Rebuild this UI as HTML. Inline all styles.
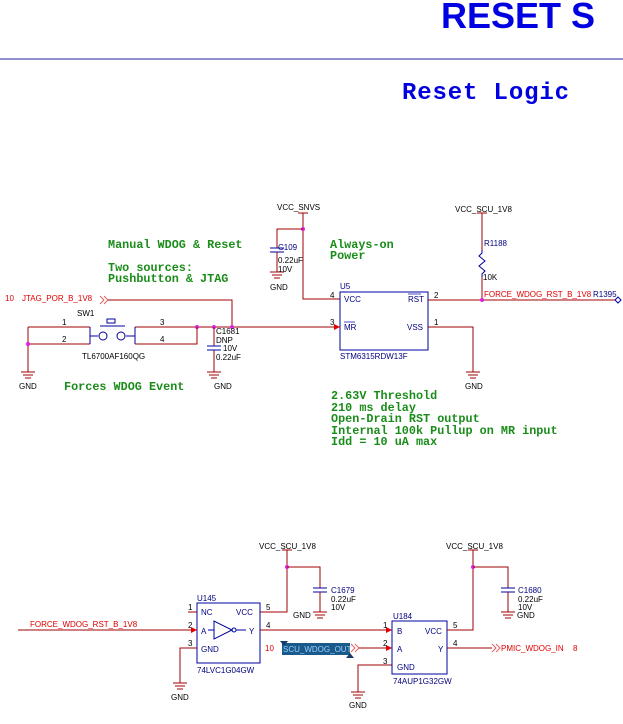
<!DOCTYPE html>
<html><head><meta charset="utf-8"><style>
html,body{margin:0;padding:0;background:#fff;}
svg{display:block}
.b{font-family:"Liberation Sans",sans-serif;font-size:8px;fill:#000}
.n{font-family:"Liberation Sans",sans-serif;font-size:8px;fill:#000080}
.r{font-family:"Liberation Sans",sans-serif;font-size:8px;fill:#e00000}
.g{font-family:"Liberation Mono",monospace;font-size:11.8px;font-weight:bold;fill:#1a8c1a}
.w{stroke:#a00000;stroke-width:1;fill:none}
.c{stroke:#0000a0;stroke-width:1;fill:none}
</style></head><body>
<svg width="623" height="724" xmlns="http://www.w3.org/2000/svg">
<text x="441" y="28" font-family="Liberation Sans,sans-serif" font-weight="bold" font-size="36" fill="#0000e0">RESET S</text>
<line x1="0" y1="59" x2="623" y2="59" stroke="#2020a0" stroke-width="1"/>
<text x="402" y="99" font-family="Liberation Mono,monospace" font-weight="bold" font-size="24" fill="#0000e0" textLength="167">Reset Logic</text>

<!-- green notes -->
<text class="g" x="108" y="248">Manual WDOG &amp; Reset</text>
<text class="g" x="108" y="271">Two sources:</text>
<text class="g" x="108" y="282">Pushbutton &amp; JTAG</text>
<text class="g" x="64" y="390">Forces WDOG Event</text>
<text class="g" x="330" y="248">Always-on</text>
<text class="g" x="330" y="259">Power</text>
<text class="g" x="331" y="399">2.63V Threshold</text>
<text class="g" x="331" y="411">210 ms delay</text>
<text class="g" x="331" y="422">Open-Drain RST output</text>
<text class="g" x="331" y="434">Internal 100k Pullup on MR input</text>
<text class="g" x="331" y="445">Idd = 10 uA max</text>

<!-- VCC_SNVS -->
<text class="b" x="277" y="210">VCC_SNVS</text>
<line x1="298" y1="213" x2="308" y2="213" stroke="#a00000"/>
<polyline class="w" points="303,213 303,299 340,299"/>
<circle cx="303" cy="229" r="2" fill="#e020e0"/>
<polyline class="w" points="303,229 277,229 277,248"/>
<line class="c" x1="270" y1="248" x2="284" y2="248"/><line class="c" x1="270" y1="252" x2="284" y2="252"/>
<line class="w" x1="277" y1="252" x2="277" y2="272"/>
<g class="w"><line x1="270" y1="272" x2="284" y2="272"/><line x1="272" y1="275" x2="282" y2="275"/><line x1="274" y1="278" x2="280" y2="278"/></g>
<text class="n" x="278" y="250">C109</text><text class="b" x="278" y="263">0.22uF</text><text class="b" x="278" y="272">10V</text>
<text class="b" x="270" y="290">GND</text>

<!-- U5 -->
<rect x="340" y="292" width="88" height="58" class="c"/>
<text class="n" x="340" y="289">U5</text>
<text class="n" x="344" y="302">VCC</text><text class="n" x="408" y="302">RST</text>
<line x1="408" y1="294" x2="421" y2="294" stroke="#0000a0" stroke-width="0.7"/>
<text class="n" x="344" y="330">MR</text>
<line x1="344" y1="322" x2="355" y2="322" stroke="#0000a0" stroke-width="0.7"/>
<text class="n" x="407" y="330">VSS</text>
<text class="b" x="330" y="298">4</text><text class="b" x="330" y="325">3</text>
<text class="b" x="434" y="298">2</text><text class="b" x="434" y="325">1</text>
<text class="n" x="340" y="359" font-size="7.5">STM6315RDW13F</text>
<polyline class="w" points="428,327 473,327 473,372"/>
<g class="w"><line x1="466" y1="372" x2="480" y2="372"/><line x1="468" y1="375" x2="478" y2="375"/><line x1="470" y1="378" x2="476" y2="378"/></g>
<text class="b" x="465" y="389">GND</text>

<!-- R1188 -->
<text class="b" x="455" y="212">VCC_SCU_1V8</text>
<line x1="477" y1="213" x2="487" y2="213" stroke="#a00000"/>
<line class="w" x1="482" y1="213" x2="482" y2="250"/>
<polyline class="c" points="482,250 482,253 479,256 485,261 479,266 485,271 482,274 482,277"/>
<line class="w" x1="482" y1="277" x2="482" y2="300"/>
<text class="n" x="484" y="246">R1188</text><text class="b" x="483" y="280">10K</text>
<line class="w" x1="428" y1="300" x2="615" y2="300"/>
<circle cx="482" cy="300" r="2" fill="#e020e0"/>
<text class="r" x="484" y="297">FORCE_WDOG_RST_B_1V8</text>
<text class="n" x="593" y="297">R1395</text>
<polyline class="c" points="615,300 618,297 621,300 618,303 615,300"/>

<!-- JTAG -->
<text class="r" x="5" y="301">10</text><text class="r" x="22" y="301">JTAG_POR_B_1V8</text>
<polyline fill="none" stroke="#e06060" points="100,296 104,300 100,304"/><polyline fill="none" stroke="#e06060" points="104,296 108,300 104,304"/>
<polyline class="w" points="108,300 232,300 232,327"/>
<line class="w" x1="135" y1="327" x2="340" y2="327"/>
<polygon points="334,324 340,327 334,330" fill="#e00000"/>
<circle cx="197" cy="327" r="2" fill="#e020e0"/><circle cx="214" cy="327" r="2" fill="#e020e0"/><circle cx="232" cy="327" r="2" fill="#e020e0"/>

<!-- SW1 -->
<text class="b" x="77" y="316">SW1</text>
<line class="w" x1="28" y1="327" x2="90" y2="327"/>
<polyline class="w" points="28,327 28,372"/>
<line class="w" x1="28" y1="344" x2="90" y2="344"/>
<circle cx="28" cy="344" r="2" fill="#e020e0"/>
<polyline points="90,327 90,344" class="c"/>
<line class="c" x1="90" y1="336" x2="98" y2="336"/>
<circle cx="103" cy="336" r="4" class="c"/><circle cx="121" cy="336" r="4" class="c"/>
<line class="c" x1="126" y1="336" x2="135" y2="336"/>
<polyline points="135,327 135,344" class="c"/>
<rect x="107" y="319" width="8" height="4" class="c"/>
<line class="c" x1="100" y1="326" x2="125" y2="326"/>
<polyline class="w" points="135,344 197,344 197,327"/>
<text class="b" x="62" y="325">1</text><text class="b" x="62" y="342">2</text>
<text class="b" x="160" y="325">3</text><text class="b" x="160" y="342">4</text>
<text class="b" x="82" y="359">TL6700AF160QG</text>
<g class="w"><line x1="21" y1="372" x2="35" y2="372"/><line x1="23" y1="375" x2="33" y2="375"/><line x1="25" y1="378" x2="31" y2="378"/></g>
<text class="b" x="19" y="389">GND</text>

<!-- C1681 -->
<line class="w" x1="214" y1="327" x2="214" y2="346"/>
<line class="c" x1="207" y1="346" x2="221" y2="346"/><line class="c" x1="207" y1="350" x2="221" y2="350"/>
<line class="w" x1="214" y1="350" x2="214" y2="372"/>
<g class="w"><line x1="207" y1="372" x2="221" y2="372"/><line x1="209" y1="375" x2="219" y2="375"/><line x1="211" y1="378" x2="217" y2="378"/></g>
<text class="b" x="214" y="389">GND</text>
<text class="b" x="216" y="334">C1681</text><text class="b" x="216" y="343">DNP</text><text class="b" x="223" y="351">10V</text><text class="b" x="216" y="360">0.22uF</text>

<!-- Bottom: U145 -->
<text class="b" x="259" y="549">VCC_SCU_1V8</text>
<line x1="282" y1="550" x2="292" y2="550" stroke="#a00000"/>
<polyline class="w" points="287,550 287,612 260,612"/>
<circle cx="287" cy="567" r="2" fill="#e020e0"/>
<polyline class="w" points="287,567 320,567 320,588"/>
<line class="c" x1="313" y1="588" x2="327" y2="588"/><line class="c" x1="313" y1="592" x2="327" y2="592"/>
<line class="w" x1="320" y1="592" x2="320" y2="612"/>
<g class="w"><line x1="313" y1="612" x2="327" y2="612"/><line x1="315" y1="615" x2="325" y2="615"/><line x1="317" y1="618" x2="323" y2="618"/></g>
<text class="n" x="331" y="593">C1679</text><text class="b" x="331" y="602">0.22uF</text><text class="b" x="331" y="610">10V</text>
<text class="b" x="293" y="618">GND</text>

<rect x="197" y="603" width="63" height="60" class="c"/>
<text class="n" x="197" y="601">U145</text>
<text class="n" x="201" y="615">NC</text><text class="n" x="236" y="615">VCC</text>
<text class="n" x="201" y="634">A</text><text class="n" x="249" y="634">Y</text>
<text class="n" x="201" y="652">GND</text>
<line class="c" x1="208" y1="630" x2="214" y2="630"/>
<polygon points="214,621 214,639 232,630" class="c"/>
<circle cx="234" cy="630" r="2" class="c"/>
<line class="c" x1="236" y1="630" x2="246" y2="630"/>
<line class="w" x1="188" y1="612" x2="197" y2="612"/>
<text class="b" x="188" y="610">1</text><text class="b" x="188" y="628">2</text><text class="b" x="188" y="646">3</text>
<text class="b" x="266" y="610">5</text><text class="b" x="266" y="628">4</text>
<text class="n" x="197" y="673" font-size="7.5">74LVC1G04GW</text>
<line class="w" x1="18" y1="630" x2="197" y2="630"/>
<polygon points="191,627 197,630 191,633" fill="#e00000"/>
<text class="r" x="30" y="627">FORCE_WDOG_RST_B_1V8</text>
<polyline class="w" points="197,648 180,648 180,683"/>
<g class="w"><line x1="173" y1="683" x2="187" y2="683"/><line x1="175" y1="686" x2="185" y2="686"/><line x1="177" y1="689" x2="183" y2="689"/></g>
<text class="b" x="171" y="700">GND</text>

<!-- U184 -->
<line class="w" x1="260" y1="630" x2="392" y2="630"/>
<polygon points="386,627 392,630 386,633" fill="#e00000"/>
<text class="r" x="265" y="651">10</text>
<rect x="282" y="643" width="68" height="12" fill="#1a5a8a"/>
<text x="283" y="652" font-family="Liberation Sans,sans-serif" font-size="8" fill="#9ad0ff">SCU_WDOG_OUT</text>
<polygon points="280,641 288,641 284,646" fill="#1a3a6a"/>
<polygon points="346,658 354,658 350,653" fill="#1a3a6a"/>
<polyline fill="none" stroke="#e06060" points="351,644 355,648 351,652"/><polyline fill="none" stroke="#e06060" points="355,644 359,648 355,652"/>
<line class="w" x1="359" y1="648" x2="392" y2="648"/>
<polygon points="386,645 392,648 386,651" fill="#e00000"/>
<polyline class="w" points="392,665 358,665 358,692"/>
<g class="w"><line x1="351" y1="692" x2="365" y2="692"/><line x1="353" y1="695" x2="363" y2="695"/><line x1="355" y1="698" x2="361" y2="698"/></g>
<text class="b" x="349" y="708">GND</text>
<rect x="392" y="621" width="55" height="53" class="c"/>
<text class="n" x="393" y="619">U184</text>
<text class="n" x="397" y="634">B</text><text class="n" x="425" y="634">VCC</text>
<text class="n" x="397" y="652">A</text><text class="n" x="438" y="652">Y</text>
<text class="n" x="397" y="670">GND</text>
<text class="b" x="383" y="628">1</text><text class="b" x="383" y="646">2</text><text class="b" x="383" y="664">3</text>
<text class="b" x="453" y="628">5</text><text class="b" x="453" y="646">4</text>
<text class="n" x="393" y="684" font-size="7.5">74AUP1G32GW</text>
<polyline class="w" points="447,630 473,630 473,550"/>
<text class="b" x="446" y="549">VCC_SCU_1V8</text>
<line x1="468" y1="550" x2="478" y2="550" stroke="#a00000"/>
<circle cx="473" cy="567" r="2" fill="#e020e0"/>
<polyline class="w" points="473,567 508,567 508,588"/>
<line class="c" x1="501" y1="588" x2="515" y2="588"/><line class="c" x1="501" y1="592" x2="515" y2="592"/>
<line class="w" x1="508" y1="592" x2="508" y2="612"/>
<g class="w"><line x1="501" y1="612" x2="515" y2="612"/><line x1="503" y1="615" x2="513" y2="615"/><line x1="505" y1="618" x2="511" y2="618"/></g>
<text class="n" x="518" y="593">C1680</text><text class="b" x="518" y="602">0.22uF</text><text class="b" x="518" y="610">10V</text>
<text class="b" x="517" y="618">GND</text>
<line class="w" x1="447" y1="648" x2="492" y2="648"/>
<polyline fill="none" stroke="#e06060" points="492,644 496,648 492,652"/><polyline fill="none" stroke="#e06060" points="496,644 500,648 496,652"/>
<text class="r" x="501" y="651">PMIC_WDOG_IN</text><text class="r" x="573" y="651">8</text>
</svg>
</body></html>
